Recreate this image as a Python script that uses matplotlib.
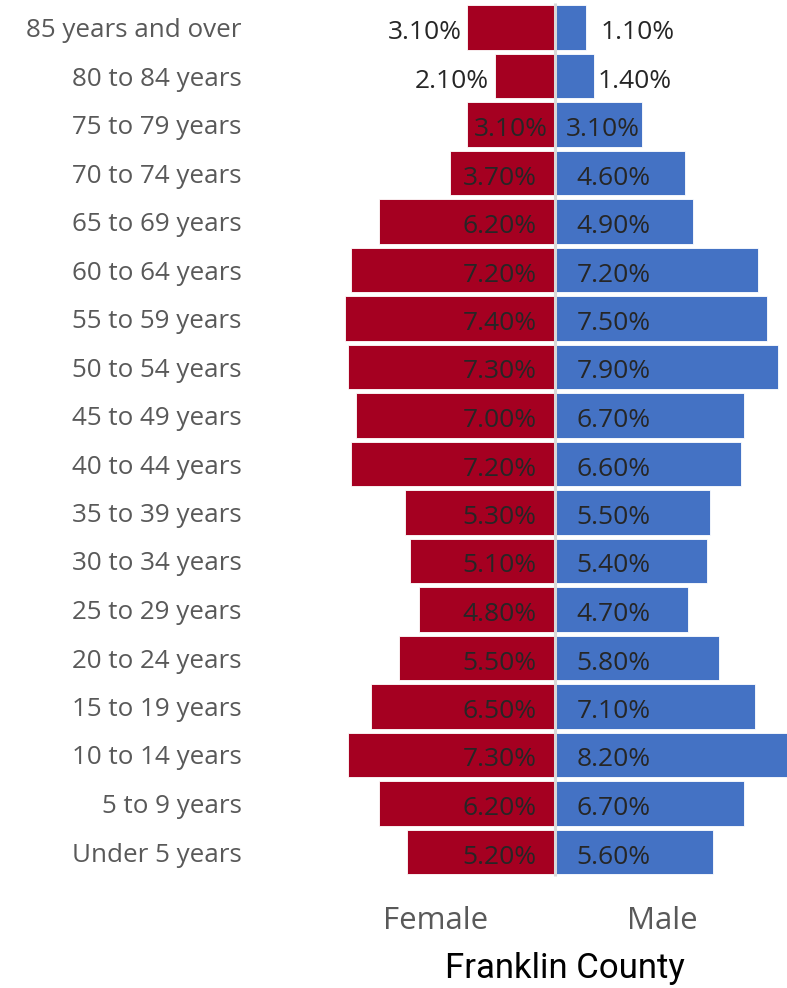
import matplotlib.pyplot as plt
import numpy as np

# Data, bottom row first
age_groups = ["Under 5 years", "5 to 9 years", "10 to 14 years", "15 to 19 years",
              "20 to 24 years", "25 to 29 years", "30 to 34 years", "35 to 39 years",
              "40 to 44 years", "45 to 49 years", "50 to 54 years", "55 to 59 years",
              "60 to 64 years", "65 to 69 years", "70 to 74 years", "75 to 79 years",
              "80 to 84 years", "85 years and over"]
female = [5.2, 6.2, 7.3, 6.5, 5.5, 4.8, 5.1, 5.3, 7.2, 7.0, 7.3, 7.4, 7.2, 6.2, 3.7, 3.1, 2.1, 3.1]
male = [5.6, 6.7, 8.2, 7.1, 5.8, 4.7, 5.4, 5.5, 6.6, 6.7, 7.9, 7.5, 7.2, 4.9, 4.6, 3.1, 1.4, 1.1]

FEMALE_COLOR = "#A50021"
MALE_COLOR = "#4472C4"
LABEL_GRAY = "#595959"
TEXT_DARK = "#262626"
FONT = ["Open Sans", "DejaVu Sans"]

W, H = 787, 988
PX_PER_PCT = 28.3
PX_PER_ROW = 48.5
CENTER_PX = 554.5

fig = plt.figure(figsize=(W / 100, H / 100), dpi=100)
ax_left, ax_top, ax_bottom = 250, 0, 880
ax = fig.add_axes((ax_left / W, 1 - ax_bottom / H, (W - ax_left) / W, (ax_bottom - ax_top) / H))

y = np.arange(len(age_groups))
ax.barh(y, -np.array(female), height=0.91, color=FEMALE_COLOR, edgecolor="white", linewidth=0.6)
ax.barh(y, male, height=0.91, color=MALE_COLOR, edgecolor="white", linewidth=0.6)

ax.set_xlim((ax_left - CENTER_PX) / PX_PER_PCT, (W - CENTER_PX) / PX_PER_PCT)
ax.set_ylim((852 - ax_bottom) / PX_PER_ROW, (852 - ax_top) / PX_PER_ROW)

# centre axis line
ax.plot([0, 0], [-0.5, 17.5], color="#D9D9D9", lw=2.2, zorder=5, solid_capstyle="butt")

# value labels (pixel offsets; a few rows placed by hand as in the original)
px = 1 / PX_PER_PCT
base_dy = 11.5 / PX_PER_ROW
outside_f = {"85 years and over": 5, "80 to 84 years": 6}
outside_m = {"85 years and over": 15, "80 to 84 years": 3}
inside_f = {"75 to 79 years": 7}
inside_m = {"75 to 79 years": 11}
for i, name in enumerate(age_groups):
    if name in outside_f:
        xf = -female[i] - outside_f[name] * px
    else:
        xf = -inside_f.get(name, 18) * px
    ax.text(xf, i - base_dy, f"{female[i]:.2f}%", ha="right", va="baseline", fontsize=19,
            color=TEXT_DARK, family=FONT, zorder=6)
    if name in outside_m:
        xm = male[i] + outside_m[name] * px
    else:
        xm = inside_m.get(name, 22) * px
    ax.text(xm, i - base_dy, f"{male[i]:.2f}%", ha="left", va="baseline", fontsize=19,
            color=TEXT_DARK, family=FONT, zorder=6)

ax.set_yticks(y)
ax.set_yticklabels(age_groups, family=FONT, fontsize=18.7, color=LABEL_GRAY)
ax.tick_params(axis="y", length=0, pad=6)
ax.set_xticks([])
for s in ax.spines.values():
    s.set_visible(False)

fig.text(436 / W, 1 - 929 / H, "Female", ha="center", va="baseline", fontsize=22.5,
         color=LABEL_GRAY, family=FONT)
fig.text(662 / W, 1 - 929 / H, "Male", ha="center", va="baseline", fontsize=22.5,
         color=LABEL_GRAY, family=FONT)
fig.text(565 / W, 1 - 978 / H, "Franklin County", ha="center", va="baseline", fontsize=25,
         color="black", family=["Roboto", "DejaVu Sans"])

fig.savefig("out.png", dpi=100)
